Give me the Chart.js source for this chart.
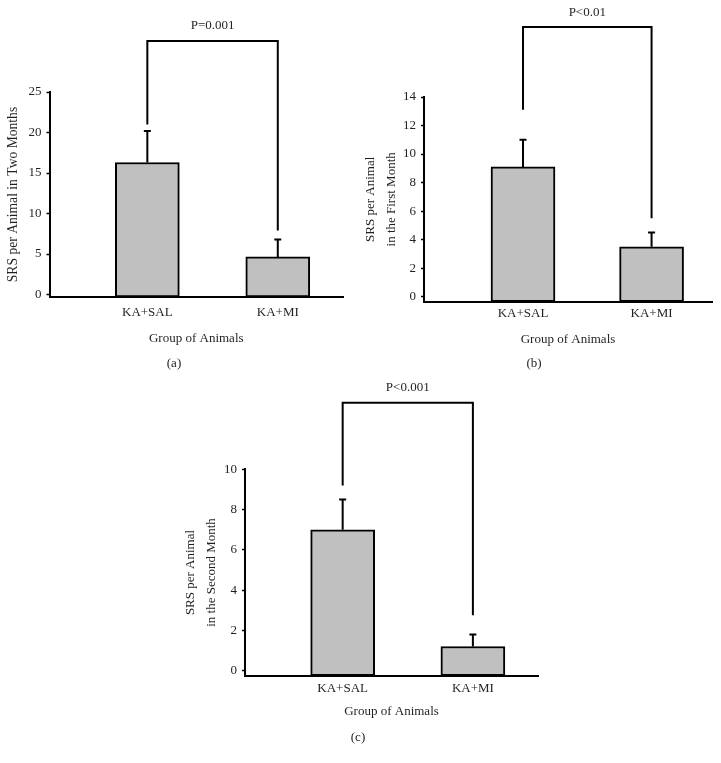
<!DOCTYPE html>
<html>
<head>
<meta charset="utf-8">
<script src="https://cdn.jsdelivr.net/npm/chart.js@4.4.1/dist/chart.umd.min.js"></script>
<style>
  html, body { margin: 0; padding: 0; background: #ffffff; }
  body { width: 721px; height: 763px; position: relative; overflow: hidden; }
  canvas { position: absolute; }
  .cap { position: absolute; font-family: "Liberation Serif", "Times New Roman", serif; font-size: 13px; line-height: 16px; color: #231f20; width: 40px; margin-left: -20px; margin-top: -8px; text-align: center; white-space: nowrap; -webkit-font-smoothing: antialiased; will-change: transform; }
</style>
</head>
<body>
<canvas id="ca" width="360" height="350" style="left:0px;top:0px;"></canvas>
<canvas id="cb" width="361" height="350" style="left:360px;top:0px;"></canvas>
<canvas id="cc" width="360" height="345" style="left:180px;top:380px;"></canvas>
<div class="cap" style="left:174px;top:363px;">(a)</div>
<div class="cap" style="left:534px;top:363px;">(b)</div>
<div class="cap" style="left:358px;top:737px;">(c)</div>
<script>
// ---------- data ----------
const categories = ['KA+SAL', 'KA+MI'];
const xTitle = 'Group of Animals';

// (a) two months
const meansA = [16.3, 4.65];
const errA = [3.9, 2.15];
const ticksA = [0, 5, 10, 15, 20, 25];
const yTitleA = 'SRS per Animal in Two Months';
const pLabelA = 'P=0.001';
const bracketTopA = 31.3;
const bracketLegsA = [21.0, 7.9];

// (b) first month
const meansB = [9.1, 3.5];
const errB = [1.9, 1.0];
const ticksB = [0, 2, 4, 6, 8, 10, 12, 14];
const yTitleB = ['SRS per Animal', 'in the First Month'];
const pLabelB = 'P<0.01';
const bracketTopB = 18.9;
const bracketLegsB = [13.1, 5.5];

// (c) second month
const meansC = [7.0, 1.2];
const errC = [1.5, 0.6];
const ticksC = [0, 2, 4, 6, 8, 10];
const yTitleC = ['SRS per Animal', 'in the Second Month'];
const pLabelC = 'P<0.001';
const bracketTopC = 13.3;
const bracketLegsC = [9.2, 2.75];

// ---------- style ----------
const FONT = '"Liberation Serif", "Times New Roman", serif';
const INK = '#231f20';
Chart.defaults.font.family = FONT;
Chart.defaults.font.size = 13;
Chart.defaults.color = INK;

const sigPlugin = {
  id: 'sig',
  afterDatasetsDraw(chart, args, opts) {
    const ctx = chart.ctx;
    const ys = chart.scales.y;
    const meta = chart.getDatasetMeta(0);
    ctx.save();
    ctx.strokeStyle = '#000';
    ctx.lineWidth = 2;
    ctx.lineCap = 'butt';
    // error bars
    meta.data.forEach((el, i) => {
      const top = ys.getPixelForValue(opts.means[i] + opts.err[i]);
      ctx.beginPath();
      ctx.moveTo(el.x, el.y);
      ctx.lineTo(el.x, top);
      ctx.moveTo(el.x - 3.5, top);
      ctx.lineTo(el.x + 3.5, top);
      ctx.stroke();
    });
    // significance bracket
    const x1 = meta.data[0].x, x2 = meta.data[1].x;
    const yb = ys.getPixelForValue(opts.bracketTop);
    ctx.beginPath();
    ctx.moveTo(x1, ys.getPixelForValue(opts.legs[0]));
    ctx.lineTo(x1, yb);
    ctx.lineTo(x2, yb);
    ctx.lineTo(x2, ys.getPixelForValue(opts.legs[1]));
    ctx.stroke();
    ctx.fillStyle = INK;
    ctx.font = '13px ' + FONT;
    ctx.textAlign = 'center';
    ctx.textBaseline = 'middle';
    ctx.fillText(opts.label, (x1 + x2) / 2, yb - 15);
    ctx.restore();
  }
};

function makePanel(id, p) {
  const data = categories.map((c, i) => ({ x: i + 1, y: p.means[i] }));
  return new Chart(document.getElementById(id), {
    type: 'bar',
    data: {
      datasets: [{
        data: data,
        backgroundColor: '#c0c0c0',
        borderColor: '#000',
        borderWidth: 2,
        borderSkipped: false,
        barThickness: 64,
        base: p.yMin
      }]
    },
    plugins: [sigPlugin],
    options: {
      responsive: false,
      animation: false,
      devicePixelRatio: 1,
      layout: { padding: p.pad },
      plugins: {
        legend: { display: false },
        tooltip: { enabled: false },
        sig: {
          means: p.means, err: p.err, bracketTop: p.bracketTop,
          legs: p.legs, label: p.label
        }
      },
      scales: {
        x: {
          type: 'linear',
          min: p.xMin, max: p.xMax,
          offset: false,
          afterBuildTicks: (s) => { s.ticks = categories.map((c, i) => ({ value: i + 1 })); },
          afterFit: (s) => { s.height = p.xH; },
          ticks: {
            padding: p.xTickPad,
            maxRotation: 0,
            callback: (v) => categories[v - 1] || '',
            color: INK,
            font: { size: 13 }
          },
          grid: { display: false, drawTicks: false },
          border: { display: true, color: '#000', width: 2 },
          title: {
            display: true, text: xTitle, color: INK,
            font: { size: 13 },
            padding: { top: 0, bottom: p.xTitlePad }
          }
        },
        y: {
          type: 'linear',
          min: p.yMin, max: p.yMax,
          afterBuildTicks: (s) => { s.ticks = p.ticks.map(v => ({ value: v })); },
          afterFit: (s) => { s.width = p.yW; },
          ticks: { padding: 5, color: INK, font: { size: 13 } },
          grid: {
            display: true, drawOnChartArea: false, drawTicks: true,
            tickLength: 3, tickColor: '#000', tickWidth: 1.5, color: '#000'
          },
          border: { display: true, color: '#000', width: 2 },
          title: {
            display: true, text: p.yTitle, color: INK,
            font: { size: p.yTitleSize, lineHeight: p.yTitleLH },
            padding: { top: p.yTitlePad, bottom: 0 }
          }
        }
      }
    }
  });
}

makePanel('ca', {
  means: meansA, err: errA, ticks: ticksA, yTitle: yTitleA,
  bracketTop: bracketTopA, legs: bracketLegsA, label: pLabelA,
  yMin: -0.3, yMax: 25, xMin: 0.25, xMax: 2.5,
  pad: { left: 0, top: 92, right: 17, bottom: 0 },
  yW: 49.5, xH: 53, xTickPad: 8, xTitlePad: 4,
  yTitleSize: 13.6, yTitleLH: 1.2, yTitlePad: 5
});

makePanel('cb', {
  means: meansB, err: errB, ticks: ticksB, yTitle: yTitleB,
  bracketTop: bracketTopB, legs: bracketLegsB, label: pLabelB,
  yMin: -0.35, yMax: 14, xMin: 0.23, xMax: 2.47,
  pad: { left: 0, top: 97, right: 9, bottom: 0 },
  yW: 64, xH: 48.3, xTickPad: 4, xTitlePad: 3,
  yTitleSize: 13, yTitleLH: 1.6, yTitlePad: 0
});

makePanel('cc', {
  means: meansC, err: errC, ticks: ticksC, yTitle: yTitleC,
  bracketTop: bracketTopC, legs: bracketLegsC, label: pLabelC,
  yMin: -0.25, yMax: 10, xMin: 0.25, xMax: 2.5,
  pad: { left: 0, top: 89.3, right: 2, bottom: 0 },
  yW: 65, xH: 49.3, xTickPad: 5, xTitlePad: 6,
  yTitleSize: 13, yTitleLH: 1.6, yTitlePad: 0
});
</script>
</body>
</html>
